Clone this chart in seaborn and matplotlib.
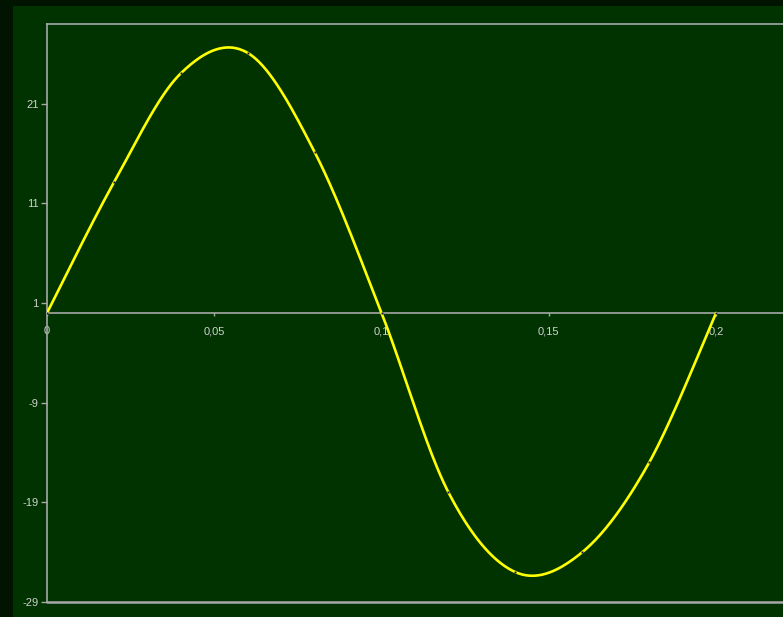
import numpy as np
import pandas as pd
import matplotlib
matplotlib.use("Agg")
import matplotlib.pyplot as plt
from matplotlib.patches import Rectangle
import seaborn as sns

# Measured series
x_values = [0.0, 0.02, 0.04, 0.06, 0.08, 0.10, 0.12, 0.14, 0.16, 0.18, 0.20]
y_values = [0.0, 13.1, 24.05, 26.1, 16.15, 0.0, -18.0, -26.0, -24.0, -15.0, 0.0]

x_ticks = [0.0, 0.05, 0.10, 0.15, 0.20]
x_tick_labels = ["0", "0,05", "0,1", "0,15", "0,2"]
y_ticks = [-29, -19, -9, 1, 11, 21]
y_tick_labels = ["-29", "-19", "-9", "1", "11", "21"]

OUTER_BG = "#001400"
CHART_BG = "#003300"
AXIS_GREY = "#a8a8a8"
TEXT_GREY = "#d0d0d0"
LINE_YELLOW = "#ffff00"


def smooth_curve(xs, ys, steps=40):
    """Bezier smoothing through the points (spreadsheet-style smoothed line)."""
    pts = np.column_stack([xs, ys]).astype(float)
    n = len(pts)
    out = []
    for i in range(n - 1):
        p0 = pts[i - 1] if i > 0 else pts[i]
        p1 = pts[i]
        p2 = pts[i + 1]
        p3 = pts[i + 2] if i + 2 < n else pts[i + 1]
        c1 = p1 + (p2 - p0) / 6.0
        c2 = p2 - (p3 - p1) / 6.0
        t = np.linspace(0, 1, steps, endpoint=(i == n - 2))[:, None]
        seg = ((1 - t) ** 3) * p1 + 3 * t * (1 - t) ** 2 * c1 \
            + 3 * t ** 2 * (1 - t) * c2 + t ** 3 * p2
        out.append(seg)
    out = np.vstack(out)
    return out[:, 0], out[:, 1]


sx, sy = smooth_curve(x_values, y_values)
curve = pd.DataFrame({"x": sx, "y": sy, "order": np.arange(len(sx))})
points = pd.DataFrame({"x": x_values, "y": y_values})

sns.set_theme(style="white")
plt.rcParams["font.family"] = ["Liberation Sans", "DejaVu Sans"]

W, H = 783, 617
fig = plt.figure(figsize=(W / 100, H / 100), dpi=100, facecolor=OUTER_BG)

# chart area panel behind the plot
bg = fig.add_axes([13 / W, 0, 1 - 13 / W, 1 - 6 / H], zorder=-5)
bg.set_facecolor(CHART_BG)
bg.set_axis_off()
bg.add_patch(Rectangle((0, 0), 1, 1, transform=bg.transAxes,
                       facecolor=CHART_BG, edgecolor="none"))

left, top, bottom = 47 / W, 24 / H, 15 / H
ax = fig.add_axes([left, bottom, 1 - left, 1 - top - bottom], zorder=1)
ax.set_facecolor(CHART_BG)

sns.lineplot(data=curve, x="x", y="y", sort=False, estimator=None,
             color=LINE_YELLOW, linewidth=1.9, ax=ax, zorder=3)
ax.plot(points["x"], points["y"], linestyle="none", marker="s",
        markersize=1.4, markerfacecolor="#101060", markeredgewidth=0,
        zorder=4)

ax.set_xlim(0, 0.22)
ax.set_ylim(-29, 29)

ax.set_xticks(x_ticks)
ax.set_xticklabels(x_tick_labels)
ax.set_yticks(y_ticks)
ax.set_yticklabels(y_tick_labels)
ax.set_xlabel("")
ax.set_ylabel("")

# x axis crosses at zero
ax.spines["bottom"].set_position(("data", 0))
for side in ("left", "top", "bottom"):
    ax.spines[side].set_color(AXIS_GREY)
    ax.spines[side].set_linewidth(1.2)
ax.spines["right"].set_visible(False)
ax.axhline(-29, color=AXIS_GREY, linewidth=1.8, clip_on=False, zorder=2)

ax.tick_params(axis="x", bottom=True, direction="out", length=2.5, width=1,
               colors=AXIS_GREY, labelcolor=TEXT_GREY, labelsize=8, pad=7)
ax.tick_params(axis="y", left=True, direction="out", length=4, width=1,
               colors=AXIS_GREY, labelcolor=TEXT_GREY, labelsize=8, pad=2)
ax.grid(False)

fig.savefig("out.png", dpi=100, facecolor=OUTER_BG)
